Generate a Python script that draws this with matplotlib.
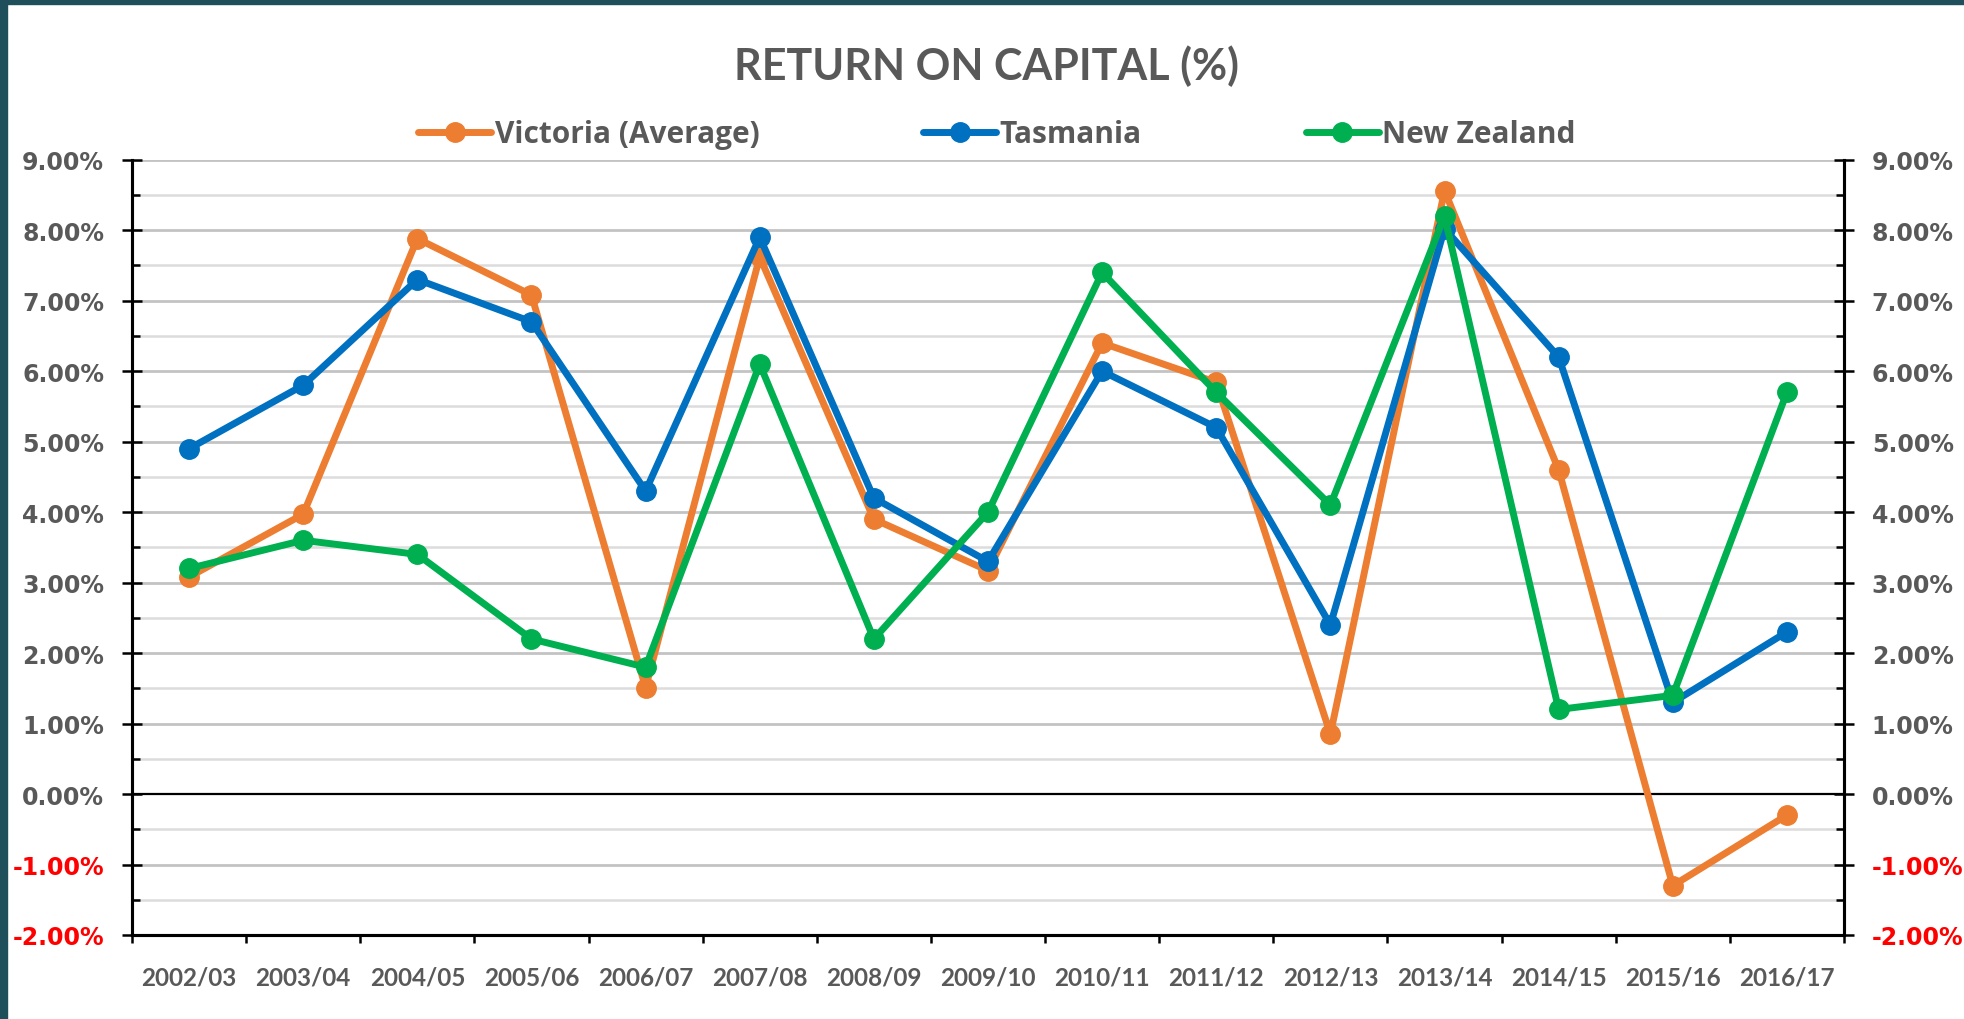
import numpy as np
import matplotlib
matplotlib.use("Agg")
import matplotlib.pyplot as plt
from matplotlib.patches import Rectangle
from matplotlib.ticker import FixedLocator, MultipleLocator

plt.rcParams['font.family'] = ['Lato', 'DejaVu Sans']

years = ["2002/03", "2003/04", "2004/05", "2005/06", "2006/07", "2007/08", "2008/09",
         "2009/10", "2010/11", "2011/12", "2012/13", "2013/14", "2014/15", "2015/16", "2016/17"]
victoria = [3.08, 3.97, 7.88, 7.08, 1.51, 7.62, 3.90, 3.17, 6.40, 5.84, 0.85, 8.56, 4.60, -1.30, -0.30]
tasmania = [4.90, 5.80, 7.30, 6.70, 4.30, 7.90, 4.20, 3.30, 6.00, 5.20, 2.40, 8.02, 6.20, 1.30, 2.30]
new_zealand = [3.20, 3.60, 3.40, 2.20, 1.80, 6.10, 2.20, 4.00, 7.40, 5.70, 4.10, 8.20, 1.20, 1.40, 5.70]

labels = ["Victoria (Average)", "Tasmania", "New Zealand"]
cols = ["#ED7D31", "#0070C0", "#00B050"]
grey = "#595959"

W, H = 1965, 1020
fig = plt.figure(figsize=(W / 100, H / 100), dpi=100)
fig.patches.append(Rectangle((0, 0), 7 / W, 1, transform=fig.transFigure, color="#1f4f5a", zorder=10))
fig.patches.append(Rectangle((0, 1 - 5 / H), 1, 5 / H, transform=fig.transFigure, color="#1f4f5a", zorder=10))

x0, x1, yt, yb = 132, 1844, 160.7, 936
ax = fig.add_axes([x0 / W, 1 - yb / H, (x1 - x0) / W, (yb - yt) / H])

x = np.arange(len(years))
for vals, lab, c in zip([victoria, tasmania, new_zealand], labels, cols):
    ax.plot(x, vals, color=c, lw=5, marker="o", ms=14, label=lab, solid_capstyle="round", zorder=3)

ax.set_xlim(-0.5, len(years) - 0.5)
ax.set_ylim(-2, 9)

# grid
for v in np.arange(-2, 9.01, 0.5):
    if abs(v) < 1e-9:
        continue
    major = abs(v - round(v)) < 1e-9
    ax.axhline(v, color="#c3c3c3" if major else "#dcdcdc", lw=2.0 if major else 1.8, zorder=1)
ax.axhline(0, color="black", lw=1.6, zorder=2)

# x axis: ticks at boundaries, labels at centers
ax.xaxis.set_major_locator(FixedLocator(np.arange(-0.5, len(years), 1.0)))
ax.xaxis.set_minor_locator(FixedLocator(x))
ax.set_xticklabels([], minor=False)
ax.set_xticklabels(years, minor=True, fontsize=17.5, fontweight="bold", color=grey)
ax.tick_params(axis="x", which="major", direction="out", length=5.5, width=1.8, color="black")
ax.tick_params(axis="x", which="minor", length=0, pad=22)

yticks = np.arange(-2, 10, 1)
ylabs = [f"{v:.2f}%" for v in yticks]

def style_y(a):
    a.set_ylim(-2, 9)
    a.yaxis.set_major_locator(FixedLocator(yticks))
    a.yaxis.set_minor_locator(MultipleLocator(0.5))
    a.set_yticklabels(ylabs, fontsize=17, fontweight="bold", family="DejaVu Sans")
    for t, v in zip(a.get_yticklabels(), yticks):
        t.set_color("#FF0000" if v < 0 else grey)
    a.tick_params(axis="y", which="major", direction="inout", length=14, width=1.8, color="black", pad=13)
    a.tick_params(axis="y", which="minor", direction="in", length=6, width=1.8, color="black")

style_y(ax)
ax2 = ax.twinx()
style_y(ax2)

for a in (ax, ax2):
    a.spines["top"].set_visible(False)
    for s in ("left", "right", "bottom"):
        a.spines[s].set_linewidth(2.2)
        a.spines[s].set_color("black")

fig.text(987 / W, 1 - 66 / H, "RETURN ON CAPITAL (%)", ha="center", va="center",
         fontsize=31, fontweight="bold", color=grey)

leg = fig.legend(loc="center", bbox_to_anchor=(997 / W, 1 - 135 / H), ncol=3, frameon=False,
                 handlelength=2.43, handletextpad=0.12, columnspacing=5.5,
                 prop={"family": "Open Sans", "weight": "bold", "size": 21.5})
for t in leg.get_texts():
    t.set_color(grey)

fig.savefig("out.png", dpi=100)
